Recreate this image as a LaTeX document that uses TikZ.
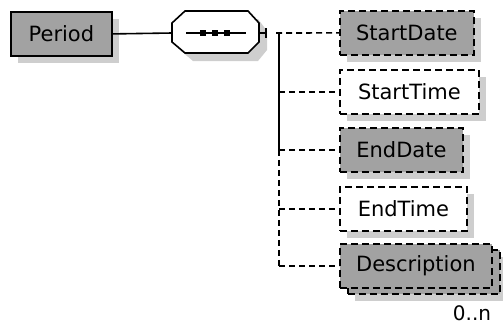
\documentclass[tikz,border=0pt]{standalone}
\usepackage{fontspec}
\setmainfont{DejaVu Sans}
\usetikzlibrary{positioning,shadows}
\definecolor{elemgray}{RGB}{162,162,162}
\definecolor{shadegray}{RGB}{206,206,206}

\tikzset{
  elem/.style={draw, line width=1.8pt, fill=elemgray, anchor=north west,
    inner sep=0pt, minimum height=44pt, font=\fontsize{21}{23}\selectfont},
  optelem/.style={elem, dash pattern=on 7pt off 4pt},
  emptyelem/.style={fill=white},
  boxshade/.style={drop shadow={shadow xshift=7pt, shadow yshift=-7pt,
    fill=shadegray, opacity=1}},
  link/.style={line width=1.6pt},
  optlink/.style={line width=1.6pt, dash pattern=on 6pt off 4pt}
}

\begin{document}
\begin{tikzpicture}[x=1pt, y=-1pt]
\useasboundingbox (0,0) rectangle (503,325);

% the element itself
\node[elem, boxshade, minimum width=101pt] (period) at (10,11) {Period};

% sequence compositor
\fill[shadegray] (180,19) -- (193,19) -- (258,19) -- (267,31) -- (267,50)
  -- (258,61) -- (193,61) -- (180,50) -- cycle;
\draw[link, fill=white] (185,11) -- (248,11) -- (259,23) -- (259,42) -- (248,53)
  -- (185,53) -- (172,42) -- (172,23) -- cycle;
\coordinate (seqL) at (172,33);
\coordinate (seqR) at (259,33);
\draw[link] (186,33) -- (246,33);
\foreach \x in {203,215,227}
  \fill (\x-3,30) rectangle (\x+3,36);

\draw[link] (period.east) -- (seqL);
\draw[link] (seqR) -- ++(7,0) coordinate (stub);
\draw[link] (stub |- 0,28) -- (stub |- 0,38);

% children
\node[optelem, boxshade, minimum width=134pt] (sdate) at (339,10) {StartDate};
\node[optelem, emptyelem, boxshade, minimum width=139pt] (stime) at (339,69) {StartTime};
\node[optelem, boxshade, minimum width=123pt] (edate) at (339,127) {EndDate};
\node[optelem, emptyelem, boxshade, minimum width=127pt] (etime) at (339,186) {EndTime};
\node[optelem, boxshade, minimum width=152pt] (descback) at (347,249) {};
\node[optelem, minimum width=152pt] (desc) at (339,243) {Description};
\node[font=\fontsize{20}{22}\selectfont] (mult) at (472,313) {0..n};

% tree
\coordinate (fork) at (279,33);
\draw[link] (fork) -- (fork |- edate.west);
\draw[optlink] (fork |- edate.west) -- (fork |- desc.west);
\draw[optlink] (fork) ++(-3,0) -- (sdate.west);
\foreach \c in {stime,edate,etime,desc}
  \draw[optlink] (fork |- \c.west) -- (\c.west);
\end{tikzpicture}
\end{document}
